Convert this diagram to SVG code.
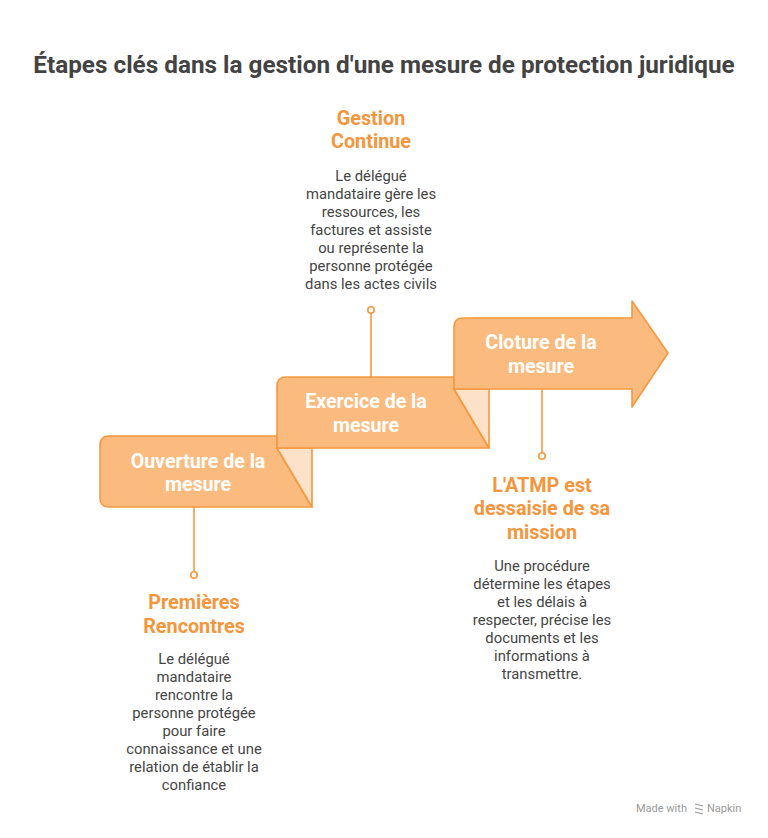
<svg xmlns="http://www.w3.org/2000/svg" width="768" height="838" viewBox="0 0 768 838">
<style>
.title{font-family:Roboto,"Liberation Sans",sans-serif;font-weight:700;font-size:24.3px;fill:#434343;text-anchor:middle}
.box{fill:#FBBB7E;stroke:#F7983F;stroke-width:1.6;stroke-linejoin:round}
.fold{fill:#FDE2C9;stroke:#F7983F;stroke-width:1.6;stroke-linejoin:round}
.lbl{font-family:Roboto,"Liberation Sans",sans-serif;font-weight:700;font-size:19.6px;fill:#ffffff;text-anchor:middle}
.head{font-family:Roboto,"Liberation Sans",sans-serif;font-weight:700;font-size:19.8px;fill:#F5953C;text-anchor:middle}
.body{font-family:Roboto,"Liberation Sans",sans-serif;font-size:14.8px;fill:#454545;text-anchor:middle}
.conn{stroke:#F7983F;stroke-width:1.6;fill:none}
.dot{fill:#ffffff;stroke:#F7983F;stroke-width:1.6}
.brand{font-family:Roboto,"Liberation Sans",sans-serif;font-size:11px;fill:#9a9a9a}
</style>
<rect width="768" height="838" fill="#ffffff"/>
<text class="title" x="384" y="73">Étapes clés dans la gestion d'une mesure de protection juridique</text>

<g id="connectors">
<line class="conn" x1="371" y1="377" x2="371" y2="313"/>
<circle class="dot" cx="371" cy="310" r="3.2"/>
<line class="conn" x1="194" y1="507" x2="194" y2="572"/>
<circle class="dot" cx="194" cy="575" r="3.2"/>
<line class="conn" x1="542" y1="389" x2="542" y2="453"/>
<circle class="dot" cx="542" cy="456" r="3.2"/>
</g>

<g id="ouverture">
<path class="box" d="M100,445 Q100,436 109,436 L277,436 L277,448 L312,507 L109,507 Q100,507 100,498 Z"/>
<path class="fold" d="M277,448 L312,448 L312,507 Z"/>
<text class="lbl" x="198" y="468">Ouverture de la</text>
<text class="lbl" x="198" y="491">mesure</text>
</g>

<g id="exercice">
<path class="box" d="M277,386 Q277,377 286,377 L454,377 L454,389 L489,448 L277,448 Z"/>
<path class="fold" d="M454,389 L489,389 L489,448 Z"/>
<text class="lbl" x="366" y="408">Exercice de la</text>
<text class="lbl" x="366" y="432">mesure</text>
</g>

<g id="cloture">
<path class="box" d="M454,327 Q454,318 463,318 L632,318 L632,301 L668,353 L632,407 L632,389 L454,389 Z"/>
<text class="lbl" x="541" y="349">Cloture de la</text>
<text class="lbl" x="541" y="373">mesure</text>
</g>

<g id="gestion-continue">
<text class="head" x="371" y="125">Gestion</text>
<text class="head" x="371" y="148">Continue</text>
<text class="body" x="371" y="181">Le délégué</text>
<text class="body" x="371" y="199">mandataire gère les</text>
<text class="body" x="371" y="217">ressources, les</text>
<text class="body" x="371" y="235">factures et assiste</text>
<text class="body" x="371" y="253">ou représente la</text>
<text class="body" x="371" y="271">personne protégée</text>
<text class="body" x="371" y="289">dans les actes civils</text>
</g>

<g id="premieres-rencontres">
<text class="head" x="194" y="609">Premières</text>
<text class="head" x="194" y="633">Rencontres</text>
<text class="body" x="194" y="664">Le délégué</text>
<text class="body" x="194" y="682">mandataire</text>
<text class="body" x="194" y="700">rencontre la</text>
<text class="body" x="194" y="718">personne protégée</text>
<text class="body" x="194" y="736">pour faire</text>
<text class="body" x="194" y="754">connaissance et une</text>
<text class="body" x="194" y="772">relation de établir la</text>
<text class="body" x="194" y="790">confiance</text>
</g>

<g id="atmp">
<text class="head" x="542" y="492">L'ATMP est</text>
<text class="head" x="542" y="515">dessaisie de sa</text>
<text class="head" x="542" y="539">mission</text>
<text class="body" x="542" y="571">Une procédure</text>
<text class="body" x="542" y="589">détermine les étapes</text>
<text class="body" x="542" y="607">et les délais à</text>
<text class="body" x="542" y="625">respecter, précise les</text>
<text class="body" x="542" y="643">documents et les</text>
<text class="body" x="542" y="661">informations à</text>
<text class="body" x="542" y="679">transmettre.</text>
</g>

<g id="brand">
<text class="brand" x="636" y="812">Made with</text>
<path d="M695,804 L703,806 M695,808 L703,810 M695,812 L703,814" stroke="#9a9a9a" stroke-width="1.2" fill="none"/>
<text class="brand" x="707" y="812">Napkin</text>
</g>
</svg>
